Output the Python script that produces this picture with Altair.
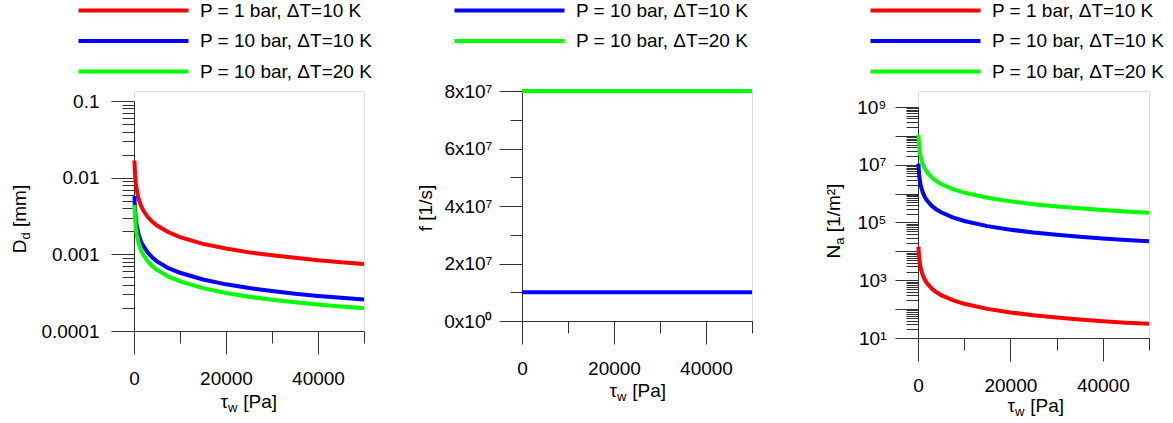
import altair as alt
import pandas as pd

FONT = "Liberation Sans"

# ---------------- data ----------------
tau = [100, 150, 250, 400, 600, 1000, 1500, 2000, 3000, 4000, 5000, 7500,
       10000, 15000, 20000, 25000, 30000, 35000, 40000, 45000, 50000]

series_all = ["P = 1 bar, \u0394T=10 K", "P = 10 bar, \u0394T=10 K", "P = 10 bar, \u0394T=20 K"]
colors_all = ["#ff0000", "#0000ff", "#00ff00"]

# D_d [mm]
dd_p1_dt10 = [0.01677, 0.01369, 0.01061, 0.00839, 0.00685, 0.0053, 0.00433, 0.00375, 0.00306,
              0.00265, 0.00237, 0.00194, 0.00168, 0.00137, 0.00119, 0.00106, 0.00097, 0.0009,
              0.00084, 0.00079, 0.00075]
dd_p10_dt10 = [0.00575, 0.00469, 0.00363, 0.00287, 0.00235, 0.00182, 0.00148, 0.00129, 0.00105,
               0.00091, 0.00081, 0.00066, 0.000575, 0.000469, 0.000406, 0.000363, 0.000332,
               0.000307, 0.000287, 0.000271, 0.000257]
dd_p10_dt20 = [0.00443, 0.00362, 0.0028, 0.00221, 0.00181, 0.0014, 0.00114, 0.00099, 0.00081,
               0.0007, 0.000626, 0.000511, 0.000443, 0.000362, 0.000313, 0.00028, 0.000256,
               0.000237, 0.000221, 0.000209, 0.000198]

# f [1/s]
tau_f = [0, 50000]
f_p10_dt10 = [1e7, 1e7]
f_p10_dt20 = [8e7, 8e7]

# N_a [1/m^2]
na_p1_dt10 = [14500, 10200, 6120, 3830, 2550, 1530, 1020, 765, 510, 383, 306, 204, 153, 102,
              77, 61, 51, 44, 38, 34, 31]
na_p10_dt10 = [1.1e7, 7.5e6, 4.5e6, 2.81e6, 1.875e6, 1.125e6, 7.5e5, 5.63e5, 3.75e5, 2.81e5,
               2.25e5, 1.5e5, 1.125e5, 7.5e4, 5.63e4, 4.5e4, 3.75e4, 3.21e4, 2.81e4, 2.5e4, 2.25e4]
na_p10_dt20 = [1.07e8, 7.2e7, 4.32e7, 2.7e7, 1.8e7, 1.08e7, 7.2e6, 5.4e6, 3.6e6, 2.7e6, 2.16e6,
               1.44e6, 1.08e6, 7.2e5, 5.4e5, 4.32e5, 3.6e5, 3.09e5, 2.7e5, 2.4e5, 2.16e5]

x_major = [0, 20000, 40000]
x_minor = [10000, 30000, 50000]

dd_major = [0.0001, 0.001, 0.01, 0.1]
dd_minor = [m * d for d in (0.0001, 0.001, 0.01) for m in range(2, 10)]

f_major = [0, 2e7, 4e7, 6e7, 8e7]
f_minor = [1e7, 3e7, 5e7, 7e7]

na_major = [10.0 ** e for e in range(1, 10)]
na_minor = [m * 10.0 ** e for e in range(1, 9) for m in range(2, 10)]


def long_df(x, cols):
    rows = []
    for name, vals in cols:
        for xi, v in zip(x, vals):
            rows.append({"tau": xi, "value": v, "series": name})
    return pd.DataFrame(rows)


AX = dict(labelFont=FONT, labelFontSize=19, labelColor="black", tickColor="#333",
          domainColor="#333", grid=False, title=None, labelOverlap=False, labelFlush=False)

# legend symbol: a long horizontal stroke drawn from a small nominal symbol size
SYM = 12            # nominal symbol size (px)
HALF = 55           # half length of the drawn stroke (px)
SYM_PATH = "M-%g,0H%g" % (2 * HALF / SYM, 2 * HALF / SYM)


def txt(s, x, y, size=19, angle=0, align="left"):
    return alt.Chart(pd.DataFrame({"t": [s]})).mark_text(
        font=FONT, fontSize=size, angle=angle, align=align, baseline="alphabetic", color="black"
    ).encode(text="t:N", x=alt.value(x), y=alt.value(y))


def x_title(x0, y0):
    # tau_w [Pa] ; x0 = end of tau glyph
    return [txt("\u03c4", x0, y0, align="right"),
            txt("w", x0, y0 + 4, size=13),
            txt("[Pa]", x0 + 10 + 5.3, y0)]


def panel(df, w, h, top, ydomain, ytype, ymajor, yminor, ylabel_expr, ypad, series, colors,
          line_left, ly, extra):
    xs = alt.Scale(domain=[0, 50000], nice=False)
    ys = alt.Scale(domain=ydomain, type=ytype, nice=False, range=[h, top])
    base = alt.Chart(df)
    lines = base.mark_line(strokeWidth=4, clip=False).encode(
        x=alt.X("tau:Q", scale=xs,
                axis=alt.Axis(values=x_major, tickSize=23, format="d", labelPadding=15,
                              orient="bottom", **AX)),
        y=alt.Y("value:Q", scale=ys,
                axis=alt.Axis(values=ymajor, tickSize=23, labelExpr=ylabel_expr,
                              labelPadding=ypad, orient="left", **AX)),
        color=alt.Color("series:N", scale=alt.Scale(domain=series, range=colors),
                        legend=alt.Legend(orient="none", legendX=line_left + HALF - SYM / 2 - 3,
                                          legendY=ly, title=None,
                                          symbolType=SYM_PATH, symbolSize=SYM * SYM,
                                          symbolStrokeWidth=4, labelFont=FONT,
                                          labelFontSize=19, labelColor="black",
                                          labelOffset=HALF - SYM / 2 + 8, labelLimit=400,
                                          rowPadding=10.5, padding=0,
                                          direction="vertical")),
    )
    minor = base.mark_line(opacity=0).encode(
        x=alt.X("tau:Q", scale=xs,
                axis=alt.Axis(values=x_minor, tickSize=12, labels=False, domain=False,
                              orient="bottom", **AX)),
        y=alt.Y("value:Q", scale=ys,
                axis=alt.Axis(values=yminor, tickSize=12, labels=False, domain=False,
                              orient="left", **AX)),
        detail="series:N",
    )
    return alt.layer(lines, minor, *extra).resolve_axis(
        x="independent", y="independent").properties(width=w, height=h)


# all three views share the same origin row; the plot tops differ through the y range
# ---------------- panel 1 : D_d ----------------
df1 = long_df(tau, [(series_all[0], dd_p1_dt10), (series_all[1], dd_p10_dt10),
                    (series_all[2], dd_p10_dt20)])
t1 = x_title(94, 317) + [
    txt("D", -108.5, 148.5, angle=270, align="right"),
    txt("d", -104.5, 148.5, size=13, angle=270),
    txt("[mm]", -108.5, 136, angle=270),
]
p1 = panel(df1, 230, 240, 10, [0.0001, 0.1], "log", dd_major, dd_minor,
           "format(datum.value, '~r')", 12, series_all, colors_all, -56, -90, t1)

# ---------------- panel 2 : f ----------------
df2 = long_df(tau_f, [(series_all[1], f_p10_dt10), (series_all[2], f_p10_dt20)])
t2 = x_title(95, 306) + [txt("f [1/s]", -90, 117, angle=270, align="center")]
p2 = panel(df2, 230, 230, 0, [0, 8e7], "linear", f_major, f_minor,
           "datum.value == 0 ? '0x10\u2070' : format(datum.value / 1e7, 'd') + 'x10\u2077'",
           7, series_all[1:], colors_all[1:], -68, -90, t2)

# ---------------- panel 3 : N_a ----------------
df3 = long_df(tau, [(series_all[0], na_p1_dt10), (series_all[1], na_p10_dt10),
                    (series_all[2], na_p10_dt20)])
na_expr = ("datum.value == 10 ? '10\u00b9' : datum.value == 1000 ? '10\u00b3' : "
           "datum.value == 100000 ? '10\u2075' : datum.value == 10000000 ? '10\u2077' : "
           "datum.value == 1000000000 ? '10\u2079' : ''")
t3 = x_title(97, 321) + [
    txt("N", -78, 153.7, angle=270, align="right"),
    txt("a", -74, 153.7, size=13, angle=270),
    txt("[1/m\u00b2]", -78, 141.2, angle=270),
]
p3 = panel(df3, 231, 247, 16, [10, 1e9], "log", na_major, na_minor, na_expr, 9,
           series_all, colors_all, -48, -90, t3)

inner = alt.hconcat(p1, p2, spacing=42).resolve_scale(color="independent").resolve_legend(
    color="independent")
chart = alt.hconcat(inner, p3, spacing=63).resolve_scale(color="independent").resolve_legend(
    color="independent").properties(padding={"left": 10, "top": 0, "right": 0, "bottom": 0}
).configure_view(stroke=None).configure(background="white")

chart.save("out.html", embed_options={"renderer": "svg", "actions": False})
